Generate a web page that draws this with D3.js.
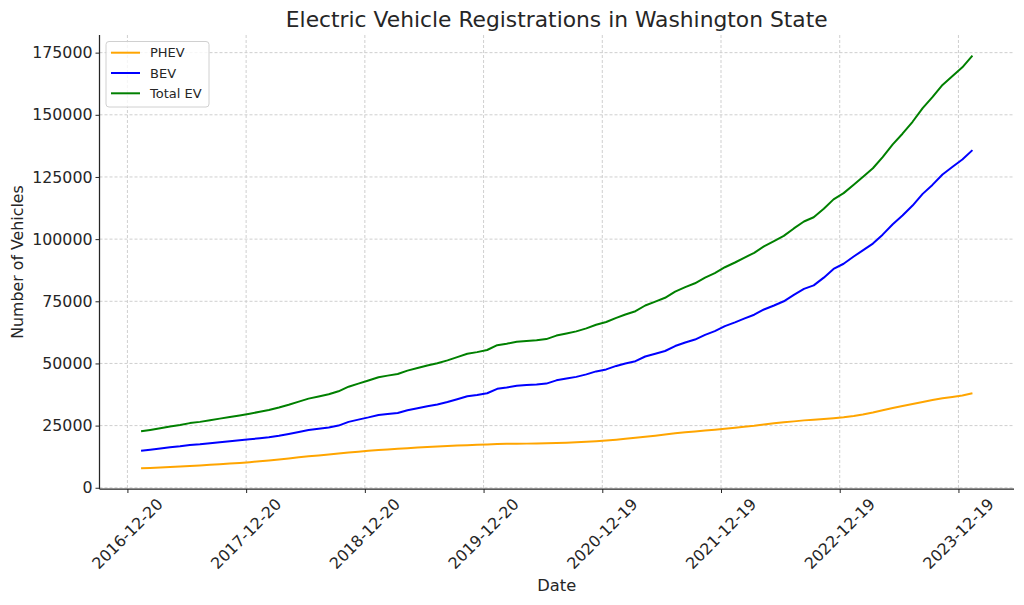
<!DOCTYPE html>
<html>
<head>
<meta charset="utf-8">
<script src="https://cdn.jsdelivr.net/npm/d3@7/dist/d3.min.js"></script>
<style>
  html, body { margin: 0; padding: 0; background: #fff; }
  svg { display: block; font-family: "DejaVu Sans", sans-serif; }
</style>
</head>
<body>
<svg id="chart" width="1024" height="605"></svg>
<script>
// ---- data (monthly, end of month) ----
const months = [
 "2017-01","2017-02","2017-03","2017-04","2017-05","2017-06","2017-07","2017-08","2017-09","2017-10","2017-11","2017-12",
 "2018-01","2018-02","2018-03","2018-04","2018-05","2018-06","2018-07","2018-08","2018-09","2018-10","2018-11","2018-12",
 "2019-01","2019-02","2019-03","2019-04","2019-05","2019-06","2019-07","2019-08","2019-09","2019-10","2019-11","2019-12",
 "2020-01","2020-02","2020-03","2020-04","2020-05","2020-06","2020-07","2020-08","2020-09","2020-10","2020-11","2020-12",
 "2021-01","2021-02","2021-03","2021-04","2021-05","2021-06","2021-07","2021-08","2021-09","2021-10","2021-11","2021-12",
 "2022-01","2022-02","2022-03","2022-04","2022-05","2022-06","2022-07","2022-08","2022-09","2022-10","2022-11","2022-12",
 "2023-01","2023-02","2023-03","2023-04","2023-05","2023-06","2023-07","2023-08","2023-09","2023-10","2023-11","2023-12",
 "2024-01"
];
const phev = [
 7800,7950,8150,8350,8550,8800,9000,9250,9500,9750,10000,10300,
 10650,11000,11400,11800,12250,12650,13000,13400,13800,14150,14500,14850,
 15150,15400,15650,15900,16150,16350,16550,16750,16950,17100,17250,17400,
 17550,17650,17700,17750,17800,17900,18000,18150,18300,18500,18750,19050,
 19350,19700,20100,20500,20950,21400,21900,22300,22650,23000,23350,23700,
 24100,24500,24900,25400,25900,26300,26700,27100,27400,27700,28000,28400,
 28900,29500,30300,31200,32100,32900,33700,34500,35300,36000,36500,37100,
 38000
];
const bev = [
 14900,15300,15800,16300,16700,17200,17500,17900,18300,18700,19100,19500,
 19900,20300,20900,21600,22400,23200,23700,24200,25000,26500,27400,28300,
 29300,29700,30100,31200,32000,32800,33500,34500,35600,36800,37300,38000,
 39800,40300,41000,41300,41500,41900,43200,43900,44600,45600,46800,47600,
 49000,50000,50900,52800,53900,55000,57000,58400,59600,61500,63000,65000,
 66500,68000,69600,71700,73300,75000,77600,80000,81400,84500,88000,90100,
 93000,95500,98200,101800,106000,109500,113500,118200,121800,126000,129000,132000,
 135800
];
const totalEV = [
 22700,23250,23950,24650,25250,26000,26500,27150,27800,28450,29100,29800,
 30550,31300,32300,33400,34650,35850,36700,37600,38800,40650,41900,43150,
 44450,45100,45750,47100,48150,49150,50050,51250,52550,53900,54550,55400,
 57350,57950,58700,59050,59300,59800,61200,62050,62900,64100,65550,66650,
 68350,69700,71000,73300,74850,76400,78900,80700,82250,84500,86350,88700,
 90600,92500,94500,97100,99200,101300,104300,107100,108800,112200,116000,118500,
 121900,125000,128500,133000,138100,142400,147200,152700,157100,162000,165500,169100,
 173800
];
const seriesNames = ["PHEV", "BEV", "Total EV"];
const seriesColors = ["orange", "blue", "green"];
const xTickLabels = ["2016-12-20","2017-12-20","2018-12-20","2019-12-20","2020-12-19","2021-12-19","2022-12-19","2023-12-19"];
const yTickValues = [0, 25000, 50000, 75000, 100000, 125000, 150000, 175000];
const titleText = "Electric Vehicle Registrations in Washington State";
const xLabel = "Date";
const yLabel = "Number of Vehicles";

// ---- layout ----
const L = 99.5, R = 1014, T = 35, B = 489;
const svg = d3.select("#chart");
const parseMonth = d3.utcParse("%Y-%m");
const parseDay = d3.utcParse("%Y-%m-%d");
const dates = months.map(m => d3.utcDay.offset(d3.utcMonth.offset(parseMonth(m), 1), -1));

const [d0, d1] = d3.extent(dates);
const span = d1 - d0;
const x = d3.scaleUtc().domain([new Date(+d0 - span * 0.05), new Date(+d1 + span * 0.05)]).range([L, R]);
const allVals = phev.concat(bev, totalEV);
const vmin = d3.min(allVals), vmax = d3.max(allVals);
const vpad = (vmax - vmin) * 0.05;
const y = d3.scaleLinear().domain([vmin - vpad, vmax + vpad]).range([B, T]);

const xTicks = xTickLabels.map(s => parseDay(s));
const textColor = "#262626";
const gridColor = "#cfcfcf";
const tickFont = 15.8;

// grid
const grid = svg.append("g");
grid.selectAll("line.gx").data(xTicks).join("line")
  .attr("x1", d => x(d)).attr("x2", d => x(d)).attr("y1", T).attr("y2", B)
  .attr("stroke", gridColor).attr("stroke-width", 1).attr("stroke-dasharray", "3,2");
grid.selectAll("line.gy").data(yTickValues).join("line")
  .attr("x1", L).attr("x2", R).attr("y1", d => y(d)).attr("y2", d => y(d))
  .attr("stroke", gridColor).attr("stroke-width", 1).attr("stroke-dasharray", "3,2");

// lines
const seriesData = [phev, bev, totalEV];
const line = d3.line().x((d, i) => x(dates[i])).y(d => y(d));
seriesData.forEach((s, k) => {
  svg.append("path").datum(s).attr("d", line)
    .attr("fill", "none").attr("stroke", seriesColors[k]).attr("stroke-width", 2)
    .attr("stroke-linejoin", "round").attr("stroke-linecap", "butt");
});

// axes
const yAxis = d3.axisLeft(y).tickValues(yTickValues).tickSize(4).tickPadding(3).tickFormat(d3.format("d"));
const gy = svg.append("g").attr("transform", `translate(${L},0)`).call(yAxis);
gy.select(".domain").attr("d", `M0,${T}V${B}`).attr("stroke", textColor).attr("stroke-width", 1.25);
gy.selectAll(".tick line").attr("stroke", textColor).attr("stroke-width", 1);
gy.selectAll(".tick text").attr("font-size", tickFont).attr("fill", textColor).attr("font-family", "DejaVu Sans");

const xAxis = d3.axisBottom(x).tickValues(xTicks).tickSize(4).tickFormat(() => "");
const gx = svg.append("g").attr("transform", `translate(0,${B})`).call(xAxis);
gx.select(".domain").attr("d", `M${L},0H${R}`).attr("stroke", textColor).attr("stroke-width", 1.25);
gx.selectAll(".tick line").attr("stroke", textColor).attr("stroke-width", 1);

// rotated x labels (45deg, bbox centered on tick)
const xl = svg.append("g");
xTicks.forEach((d, i) => {
  const t = xl.append("text").text(xTickLabels[i])
    .attr("font-size", tickFont).attr("fill", textColor)
    .attr("text-anchor", "middle").attr("dominant-baseline", "central");
  const w = t.node().getComputedTextLength();
  const h = tickFont * 0.95;
  const half = (w + h) * Math.SQRT1_2 / 2;
  const cx = x(d), cy = B + 4 + 3 + half;
  t.attr("transform", `translate(${cx},${cy}) rotate(-45)`);
});

// title and axis labels
svg.append("text").attr("x", (L + R) / 2).attr("y", 27).attr("text-anchor", "middle")
  .attr("font-size", 21.8).attr("fill", textColor).text(titleText);
svg.append("text").attr("x", (L + R) / 2).attr("y", 591).attr("text-anchor", "middle")
  .attr("font-size", 16.3).attr("fill", textColor).text(xLabel);
svg.append("text").attr("transform", `translate(23,${(T + B) / 2}) rotate(-90)`).attr("text-anchor", "middle")
  .attr("font-size", 15.8).attr("fill", textColor).text(yLabel);

// legend
const lg = svg.append("g");
lg.append("rect").attr("x", 106).attr("y", 41.5).attr("width", 103).attr("height", 65.5)
  .attr("rx", 3).attr("fill", "#fff").attr("fill-opacity", 0.8).attr("stroke", "#d0d0d0").attr("stroke-width", 1);
seriesNames.forEach((n, k) => {
  const yy = 52.7 + k * 20.3;
  lg.append("line").attr("x1", 111).attr("x2", 140).attr("y1", yy).attr("y2", yy)
    .attr("stroke", seriesColors[k]).attr("stroke-width", 2);
  lg.append("text").attr("x", 150).attr("y", yy).attr("dominant-baseline", "central")
    .attr("font-size", 13).attr("fill", textColor).text(n);
});
</script>
</body>
</html>
